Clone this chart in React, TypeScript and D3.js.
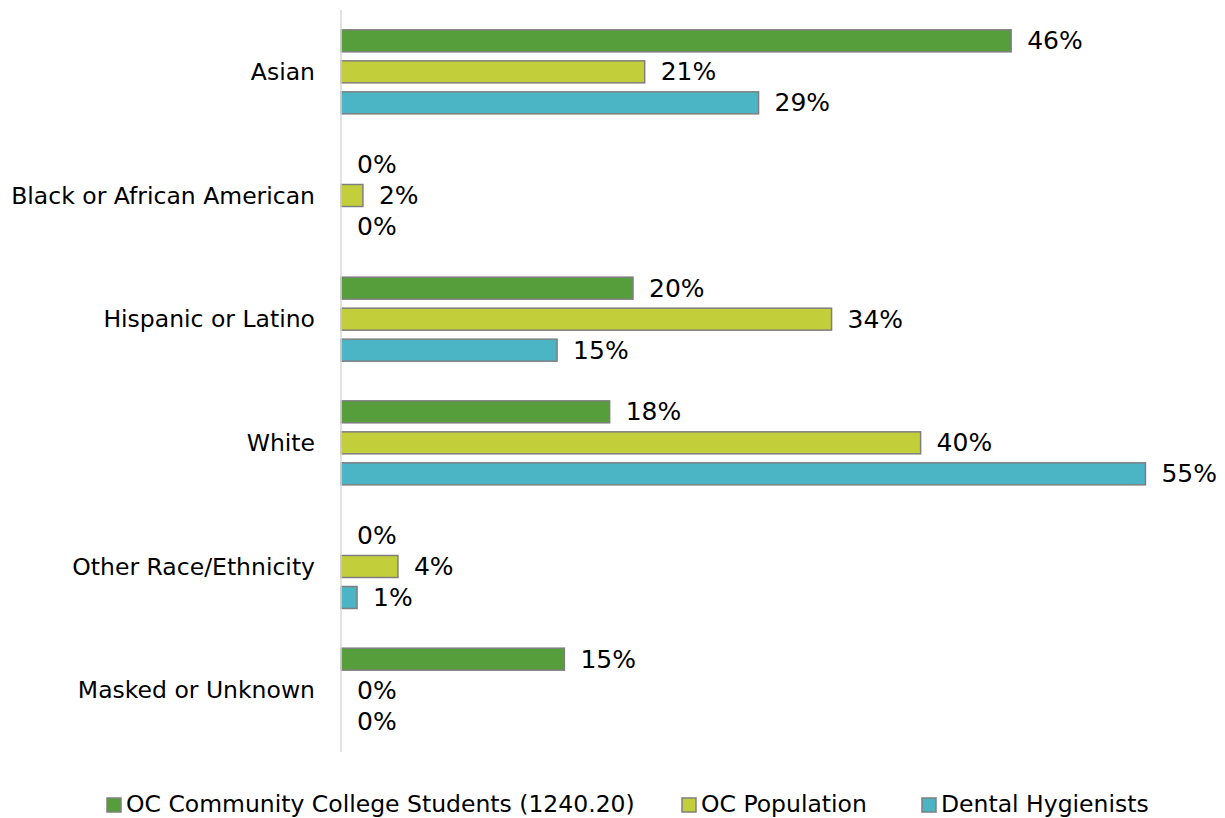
import React from "react";
import * as d3 from "d3";

const categories = [
  "Asian",
  "Black or African American",
  "Hispanic or Latino",
  "White",
  "Other Race/Ethnicity",
  "Masked or Unknown",
];
const seriesNames = [
  "OC Community College Students (1240.20)",
  "OC Population",
  "Dental Hygienists",
];
const students = [45.9, 0, 20.0, 18.4, 0, 15.3];
const population = [20.8, 1.5, 33.6, 39.7, 3.9, 0];
const hygienists = [28.6, 0, 14.8, 55.1, 1.1, 0];
const seriesValues = [students, population, hygienists];
const colors = ["#559E3B", "#C3CF3A", "#4BB4C5"];

const W = 1225;
const H = 818;
const FONT = "'DejaVu Sans', sans-serif";

export default function App() {
  const x = d3.scaleLinear().domain([0, 60]).range([341, 1217]);
  const y = d3.scaleBand().domain(categories).range([10, 752]).paddingInner(0).paddingOuter(0);
  const sub = d3
    .scaleBand()
    .domain(seriesNames)
    .range([y.bandwidth() / 2 - 46.5, y.bandwidth() / 2 + 46.5]);
  const barH = 22;

  const legendX = [107, 682, 922];

  return (
    <svg
      width={W}
      height={H}
      style={{ position: "absolute", left: 0, top: 0, fontFamily: FONT }}
    >
      <rect x={0} y={0} width={W} height={H} fill="#fff" />
      {categories.map((c, ci) => {
        const y0 = y(c)!;
        return (
          <g key={c}>
            <text
              x={315}
              y={y0 + y.bandwidth() / 2}
              textAnchor="end"
              dominantBaseline="central"
              fontSize={23.5}
              fill="#000"
            >
              {c}
            </text>
            {seriesNames.map((s, si) => {
              const v = seriesValues[si][ci];
              const by = y0 + sub(s)! + (sub.bandwidth() - barH) / 2;
              const w = x(v) - x(0);
              return (
                <g key={s}>
                  {v > 0 && (
                    <rect
                      x={x(0)}
                      y={by}
                      width={w}
                      height={barH}
                      fill={colors[si]}
                      stroke="#7F7F7F"
                      strokeWidth={1.5}
                    />
                  )}
                  <text
                    x={x(v) + 16}
                    y={by + barH / 2}
                    dominantBaseline="central"
                    fontSize={25}
                    fill="#000"
                  >
                    {Math.round(v) + "%"}
                  </text>
                </g>
              );
            })}
          </g>
        );
      })}
      <line x1={x(0)} x2={x(0)} y1={10} y2={752} stroke="#D9D9D9" strokeWidth={1.5} />
      {seriesNames.map((s, si) => (
        <g key={s}>
          <rect
            x={legendX[si]}
            y={798}
            width={14}
            height={14}
            fill={colors[si]}
            stroke="#7F7F7F"
            strokeWidth={1.5}
          />
          <text x={legendX[si] + 19} y={812} fontSize={23.5} fill="#000">
            {s}
          </text>
        </g>
      ))}
    </svg>
  );
}
